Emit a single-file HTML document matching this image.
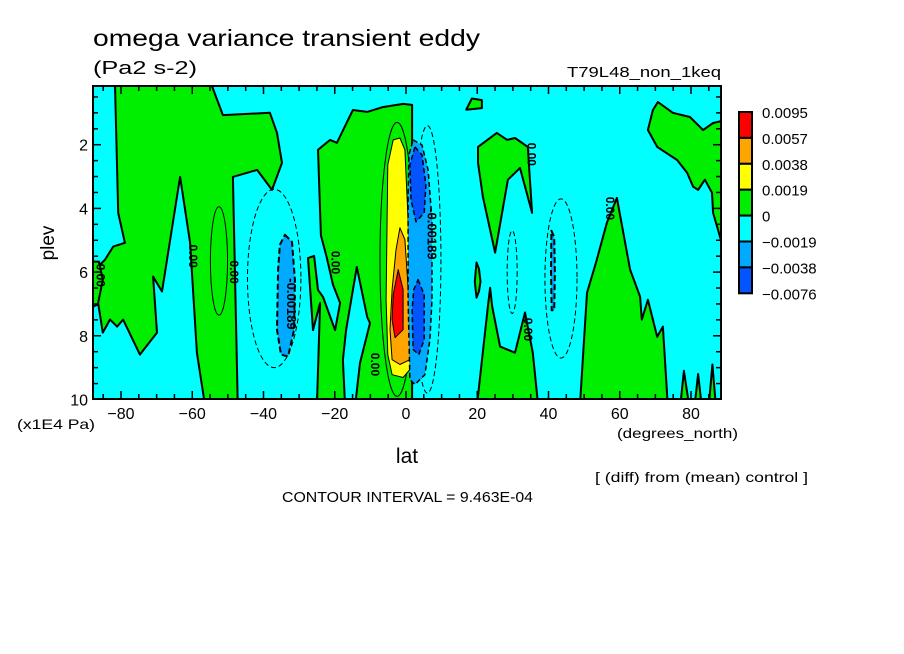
<!DOCTYPE html>
<html><head><meta charset="utf-8">
<style>
html,body{margin:0;padding:0;background:#fff;}
svg{display:block;font-family:"Liberation Sans",sans-serif;}
</style></head>
<body>
<svg id="chart" width="904" height="654" viewBox="0 0 904 654" xmlns="http://www.w3.org/2000/svg">
<defs><clipPath id="plotclip"><rect x="93" y="86" width="628" height="313"/></clipPath></defs>
<text x="93" y="46" font-size="23" textLength="387" lengthAdjust="spacingAndGlyphs">omega variance transient eddy</text>
<text x="93" y="74" font-size="18" textLength="104" lengthAdjust="spacingAndGlyphs">(Pa2 s-2)</text>
<text x="567" y="77" font-size="15" textLength="154" lengthAdjust="spacingAndGlyphs">T79L48_non_1keq</text>
<rect x="93" y="86" width="628" height="313" fill="#00ffff"/>
<g id="fills" clip-path="url(#plotclip)"></g>
<g id="ticks"></g>
<rect x="93" y="86" width="628" height="313" fill="none" stroke="#000" stroke-width="2"/>
<text transform="translate(54,243) rotate(-90)" font-size="19" text-anchor="middle">plev</text>
<text x="17" y="429" font-size="14" textLength="78" lengthAdjust="spacingAndGlyphs">(x1E4 Pa)</text>
<text x="407" y="463" font-size="21" text-anchor="middle">lat</text>
<text x="617" y="438" font-size="14" textLength="121" lengthAdjust="spacingAndGlyphs">(degrees_north)</text>
<text x="595" y="482" font-size="14" textLength="213" lengthAdjust="spacingAndGlyphs">[ (diff) from (mean) control ]</text>
<text x="282" y="502" font-size="15" textLength="251" lengthAdjust="spacingAndGlyphs">CONTOUR INTERVAL = 9.463E-04</text>
<g id="legend"></g>
</svg>
<script>
const latTicks=[-80,-60,-40,-20,0,20,40,60,80];
const plevTicks=[2,4,6,8,10];
const legendLabels=["0.0095","0.0057","0.0038","0.0019","0","\u22120.0019","\u22120.0038","\u22120.0076"];
const legendColors=["#ff0000","#ffa500","#ffff00","#00ee00","#00ffff","#00aaff","#0055ff"];
const GREEN="#00ee00";
// zero-contour green regions (lat, plev)
const greenWest=[[-81.7,0],[-55,0],[-51.4,1.07],[-38.2,1.0],[-36.2,1.63],[-34.8,2.57],[-37.6,3.42],[-41.8,2.79],[-48.6,3.01],[-47.2,10.2],[-56.4,10.2],[-58.7,8.53],[-60.6,5.08],[-63.4,3.01],[-68.5,6.61],[-71,6.14],[-69.9,7.9],[-74.7,8.59],[-79.4,7.49],[-81.1,7.71],[-83.1,7.49],[-85.1,7.9],[-86.7,6.77],[-87.3,5.92],[-84.5,5.61],[-82.2,5.2],[-78.9,5.08],[-80.8,4.14]];
const greenEdge=[[-90,5.67],[-86.2,5.67],[-85.1,6.24],[-86.5,7.02],[-90,7.18]];
const greenCentral=[[-24.7,2.16],[-21.3,1.85],[-19.4,1.94],[-14.9,0.91],[-10.9,0.97],[-6.5,0.82],[-0.8,0.72],[1.7,0.75],[1.7,10.2],[-14.3,10.2],[-12.9,8.85],[-10.1,7.6],[-10.9,7.41],[-13.8,5.84],[-16.8,7.82],[-17.7,8.76],[-17.1,10.2],[-25.0,10.2],[-24.1,6.97],[-26.1,7.82],[-27.5,5.56],[-25.8,5.49],[-24.7,6.56],[-23.3,6.78],[-19.9,7.82],[-18.5,6.97],[-20.5,6.4],[-22.2,5.56],[-23.9,4.84]];
const greenNH1=[[20.2,2.07],[25.5,1.63],[28.4,1.85],[30.6,1.79],[34.2,2.07],[35.4,4.14],[32.0,2.73],[28.6,3.10],[25.0,5.39],[21.6,3.64],[20.2,2.57]];
const greenNH2=[[19.9,10.2],[23,7.08],[23.6,6.49],[24.2,7.08],[26.4,8.34],[30.6,8.53],[33.4,7.27],[35.6,8.53],[37.1,10.2]];
const greenNH3=[[48.8,10.2],[50.8,6.65],[53.3,5.71],[56.4,4.45],[59.2,3.67],[62.9,5.92],[65.7,6.77],[66.2,7.49],[67.9,6.87],[70.5,8.03],[72.1,7.71],[73.5,10.2]];
const greenNH4=[[69.3,0.91],[70.7,0.66],[74.9,1.0],[79.7,1.13],[83.4,1.54],[86.2,1.32],[90,1.22],[90,5.61],[86.2,4.14],[85.9,3.51],[83.9,3.10],[82.0,3.42],[80.6,3.32],[78.9,2.88],[76.1,2.48],[70.5,2.07],[67.9,1.54]];
const greenSmall1=[[16.9,0.9],[18.5,0.55],[21.3,0.6],[21.3,0.85]];
const greenSmall2=[[19.8,5.7],[20.5,5.9],[20.9,6.3],[20.5,6.6],[19.8,6.8],[19.3,6.3]];
const greenSpike1=[[77,10.2],[78,9.1],[79.5,10.2]];
const greenSpike2=[[81,10.2],[82,9.2],[83,10.2]];
const greenSpike3=[[85,10.2],[86,8.9],[87,10.2]];
// positive core
const yellowCore=[[-3.6,1.85],[-1.7,1.79],[-0.3,2.16],[0.6,4.36],[1.1,6.87],[1.1,9.06],[-0.8,9.31],[-3.9,9.22],[-5.1,8.59],[-5.6,6.87],[-5.3,4.36],[-5.1,2.63]];
const orangeCore=[[-1.7,4.61],[-0.3,4.98],[0.8,6.87],[1.1,8.75],[-1.7,8.90],[-3.9,8.75],[-4.5,7.81],[-3.9,6.55],[-2.8,5.30]];
const redCore=[[-2.2,5.92],[-0.8,6.55],[-0.8,7.81],[-3.1,8.06],[-3.9,7.49],[-3.6,6.71]];
// negative features
const lblueCore=[[2.0,1.85],[4.5,2.01],[6.2,2.79],[7.3,4.36],[7.3,6.87],[6.7,8.12],[5.3,9.22],[2.5,9.53],[1.1,9.37],[0.6,6.87],[0.6,3.73],[0.8,2.32]];
const dblueTop=[[2.5,2.07],[4.5,2.32],[5.6,3.26],[5.1,4.14],[2.8,4.42],[1.4,3.73],[1.1,2.63]];
const dblueLow=[[3.4,6.24],[5.1,6.71],[5.1,8.12],[3.6,8.59],[2.0,8.43],[1.7,7.18],[2.2,6.55]];
const blueWest=[[-34.0,4.83],[-32.0,5.05],[-31.2,6.24],[-31.4,7.81],[-33.1,8.65],[-35.1,8.59],[-36.2,7.81],[-35.9,5.92],[-35.4,5.14]];
const blueEast=[[40.8,4.7],[41.6,4.9],[41.8,6],[41.6,7.2],[40.9,7.2],[40.7,6]];
// thin contour ellipses: [centerLat, centerPlev, halfWidthLat, halfHeightPlev]
const dashedEllipses=[[-37,6.2,7.5,2.8],[43.5,6.2,4.5,2.5],[29.8,6.0,1.4,1.3],[6,5.6,3.8,4.2]];
const solidEllipses=[[-52.5,5.65,2.4,1.7],[-2.5,5.6,4.8,4.3]];
const zeroLabels=[[-86,6.1,"0.00"],[-60,5.5,"0.00"],[-48.5,6.0,"0.00"],[-20,5.7,"0.00"],[-9,8.9,"0.00"],[35,2.3,"0.00"],[34,7.8,"0.00"],[57,4.0,"0.00"]];
const negLabels=[[-32.5,7.0,"-0.00189"],[7,4.8,"-0.00189"]];

const X=lat=>406+3.5625*lat;
const Y=p=>81+31.85*p;
const NS="http://www.w3.org/2000/svg";
const fills=document.getElementById('fills');
const ticks=document.getElementById('ticks');
const legend=document.getElementById('legend');
function ptsStr(a){return a.map(d=>X(d[0]).toFixed(1)+','+Y(d[1]).toFixed(1)).join(' ');}
function poly(parent,data,fill,stroke,sw,dash,name){
  const e=document.createElementNS(NS,'polygon');
  e.setAttribute('points',ptsStr(data));
  e.setAttribute('fill',fill);e.setAttribute('stroke',stroke);e.setAttribute('stroke-width',sw);
  if(dash)e.setAttribute('stroke-dasharray',dash);
  e.setAttribute('stroke-linejoin','round');
  
  
  parent.appendChild(e);
}
function ell(d,dash,name){
  const e=document.createElementNS(NS,'ellipse');
  e.setAttribute('cx',X(d[0]));e.setAttribute('cy',Y(d[1]));
  e.setAttribute('rx',X(d[0]+d[2])-X(d[0]));e.setAttribute('ry',Y(d[1]+d[3])-Y(d[1]));
  e.setAttribute('fill','none');e.setAttribute('stroke','#000');e.setAttribute('stroke-width','1');
  if(dash)e.setAttribute('stroke-dasharray',dash);
  
  
  fills.appendChild(e);
}
[greenWest,greenEdge,greenCentral,greenNH1,greenNH2,greenNH3,greenNH4,greenSmall1,greenSmall2,greenSpike1,greenSpike2,greenSpike3].forEach(g=>poly(fills,g,GREEN,'#000',2,null,'zero-contour-region'));
dashedEllipses.forEach(d=>ell(d,'5,3','negative-contour-line'));
solidEllipses.forEach(d=>ell(d,null,'positive-contour-line'));
poly(fills,yellowCore,legendColors[2],'#000',1,null,'positive-core-yellow');
poly(fills,orangeCore,legendColors[1],'#000',1,null,'positive-core-orange');
poly(fills,redCore,legendColors[0],'#000',1,null,'positive-core-red');
poly(fills,lblueCore,legendColors[5],'#000',1.5,'5,3','negative-core-lightblue');
poly(fills,dblueTop,legendColors[6],'#000',1.5,'5,3','negative-core-upper');
poly(fills,dblueLow,legendColors[6],'#000',1.5,'5,3','negative-core-lower');
poly(fills,blueWest,legendColors[5],'#000',2,'6,3','negative-region-west');
poly(fills,blueEast,legendColors[5],'#000',2,'6,3','negative-region-east');
function rotLabel(d,name,size){
  const t=document.createElementNS(NS,'text');
  t.setAttribute('transform','translate('+X(d[0])+','+Y(d[1])+') rotate(90)');
  t.setAttribute('font-size',size);t.setAttribute('text-anchor','middle');t.setAttribute('dominant-baseline','middle');
  t.setAttribute('font-weight','bold');
  t.textContent=d[2];
  
  
  fills.appendChild(t);
}
zeroLabels.forEach(d=>rotLabel(d,'contour-label',12));
negLabels.forEach(d=>rotLabel(d,'contour-label-negative',13));

function line(x1,y1,x2,y2,name){
  const l=document.createElementNS(NS,'line');
  l.setAttribute('x1',x1);l.setAttribute('y1',y1);l.setAttribute('x2',x2);l.setAttribute('y2',y2);
  l.setAttribute('stroke','#000');l.setAttribute('stroke-width','1.5');
  
  
  ticks.appendChild(l);
}
function txt(parent,x,y,s,anchor,size,name){
  const t=document.createElementNS(NS,'text');
  t.setAttribute('x',x);t.setAttribute('y',y);t.setAttribute('font-size',size);t.setAttribute('text-anchor',anchor);
  t.textContent=s;
  
  
  parent.appendChild(t);
}
for(let lat=-85;lat<=85;lat+=5){
  const major=lat%20===0;const L=major?8:5;
  line(X(lat),399,X(lat),399-L,'x-tick');
  line(X(lat),86,X(lat),86+L,'x-tick-top');
}
latTicks.forEach(v=>txt(ticks,X(v),419,v<0?'\u2212'+Math.abs(v):String(v),'middle',16,'x-tick-label'));
for(let p=0.5;p<10;p+=0.5){
  const major=Math.abs(p-Math.round(p/2)*2)<1e-6;const L=major?8:5;
  line(93,Y(p),93+L,Y(p),'y-tick');
  line(721,Y(p),721-L,Y(p),'y-tick-right');
}
plevTicks.forEach(v=>txt(ticks,88,Y(v)+6,String(v),'end',16,'y-tick-label'));
// legend
const lx=739,ly=112,bw=13,bh=25.9;
legendColors.forEach((c,i)=>{
  const r=document.createElementNS(NS,'rect');
  r.setAttribute('x',lx);r.setAttribute('y',ly+i*bh);r.setAttribute('width',bw);r.setAttribute('height',bh);
  r.setAttribute('fill',c);r.setAttribute('stroke','#000');r.setAttribute('stroke-width','2');
  
  
  legend.appendChild(r);
});
legendLabels.forEach((s,i)=>txt(legend,762,ly+i*bh+6,s,'start',15,'legend-label'));
</script>
</body></html>
